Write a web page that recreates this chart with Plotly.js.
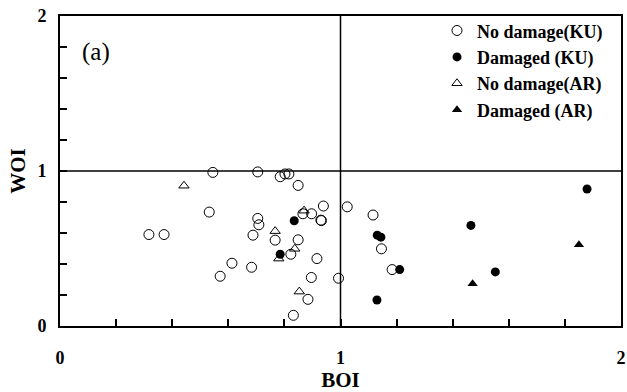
<!DOCTYPE html>
<html><head><meta charset="utf-8">
<script src="https://cdn.plot.ly/plotly-3.0.1.min.js"></script>
<style>html,body{margin:0;padding:0;background:#fff;overflow:hidden}#c{width:627px;height:392px}</style>
</head><body><div id="c"></div>
<script>
const noDamageKU_x = [0.317,0.371,0.545,0.705,0.785,0.802,0.816,0.849,0.532,0.705,0.709,0.688,0.767,0.849,0.866,0.897,0.939,0.930,0.932,1.024,1.116,1.146,1.184,0.823,0.916,0.613,0.683,0.571,0.896,0.993,0.884,0.832];
const noDamageKU_y = [0.590,0.590,0.991,0.994,0.963,0.981,0.981,0.907,0.735,0.694,0.653,0.586,0.554,0.556,0.724,0.724,0.774,0.683,0.680,0.769,0.716,0.498,0.364,0.463,0.435,0.405,0.379,0.321,0.313,0.308,0.172,0.069];
const damagedKU_x = [0.835,0.785,1.131,1.144,1.211,1.130,1.465,1.552,1.879];
const damagedKU_y = [0.679,0.463,0.586,0.573,0.364,0.168,0.649,0.349,0.884];
const noDamageAR_x = [0.442,0.870,0.767,0.780,0.837,0.853];
const noDamageAR_y = [0.905,0.744,0.612,0.435,0.498,0.222];
const damagedAR_x = [1.471,1.850];
const damagedAR_y = [0.272,0.524];
const tickVals = [0,0.2,0.4,0.6,0.8,1,1.2,1.4,1.6,1.8,2];
const tickText = ['0','','','','','1','','','','','2'];

const F = '"Liberation Serif", "Times New Roman", serif';
const traces = [
  {x:noDamageKU_x,y:noDamageKU_y,name:'No damage(KU)',mode:'markers',type:'scatter',
   marker:{symbol:'circle-open',size:10,color:'#000',line:{width:1}}},
  {x:damagedKU_x,y:damagedKU_y,name:'Damaged (KU)',mode:'markers',type:'scatter',
   marker:{symbol:'circle',size:9,color:'#000'}},
  {x:noDamageAR_x,y:noDamageAR_y,name:'No damage(AR)',mode:'markers',type:'scatter',
   marker:{symbol:'triangle-up-open',size:9,color:'#000',line:{width:1}}},
  {x:damagedAR_x,y:damagedAR_y,name:'Damaged (AR)',mode:'markers',type:'scatter',
   marker:{symbol:'triangle-up',size:9,color:'#000'}}
];
const axisCommon = {range:[0,2],tickmode:'array',tickvals:tickVals,ticktext:tickText,ticks:'inside',ticklen:7,tickwidth:2,
  tickcolor:'#000',showgrid:false,zeroline:false,showline:true,linecolor:'#000',linewidth:2,mirror:true,
  automargin:false,ticklabeloverflow:'allow',tickfont:{family:F,size:18,color:'#000',weight:'bold'}};
const layout = {
  width:627,height:392,margin:{l:60,r:6,t:16,b:66},
  paper_bgcolor:'#fff',plot_bgcolor:'#fff',
  font:{family:F,color:'#000'},
  xaxis:Object.assign({},axisCommon,{ticklabelstandoff:14,title:{text:'<b>BOI</b>',font:{family:F,size:21,color:'#000'},standoff:2}}),
  yaxis:Object.assign({},axisCommon,{ticklabelstandoff:8,title:{text:'<b>WOI</b>',font:{family:F,size:21,color:'#000'},standoff:6}}),
  showlegend:true,
  legend:{x:0.672,y:1.012,xanchor:'left',yanchor:'top',bgcolor:'rgba(0,0,0,0)',tracegroupgap:0,
    font:{family:F,size:18,color:'#000',weight:'bold'},itemwidth:30},
  shapes:[
    {type:'line',xref:'x',yref:'y',x0:0,x1:2,y0:1,y1:1,line:{color:'#000',width:1.5}},
    {type:'line',xref:'x',yref:'y',x0:1,x1:1,y0:0,y1:2,line:{color:'#000',width:1.5}}
  ],
  annotations:[{text:'(a)',xref:'paper',yref:'paper',x:0.035,y:0.885,xanchor:'left',yanchor:'middle',
    showarrow:false,font:{family:F,size:25,color:'#000'}}]
};
Plotly.newPlot('c',traces,layout,{displayModeBar:false});
</script></body></html>
